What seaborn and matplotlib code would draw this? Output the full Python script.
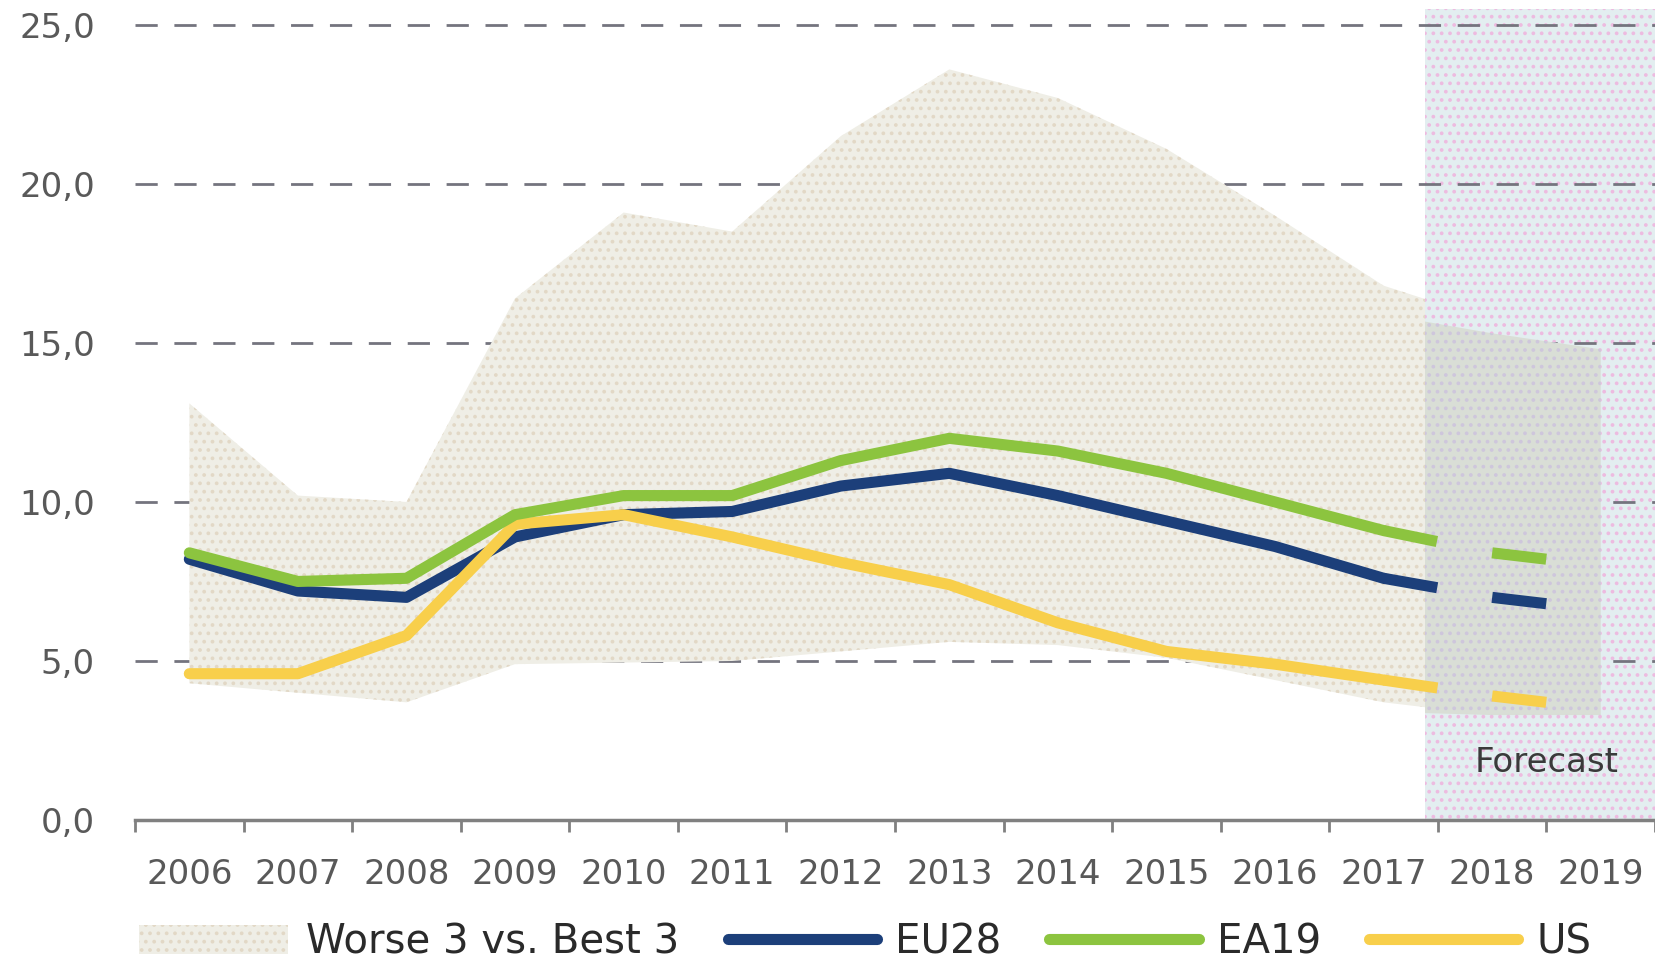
import matplotlib
matplotlib.use("Agg")
import matplotlib.pyplot as plt
import seaborn as sns
import numpy as np
import pandas as pd
from matplotlib.patches import Patch, Rectangle
from matplotlib.lines import Line2D
from matplotlib.ticker import FixedLocator, FixedFormatter, NullFormatter, FuncFormatter

# unemployment rate (%), actuals
years = list(range(2006, 2018))
eu28 = [8.2, 7.2, 7.0, 8.9, 9.6, 9.7, 10.5, 10.9, 10.2, 9.4, 8.6, 7.6]
ea19 = [8.4, 7.5, 7.6, 9.6, 10.2, 10.2, 11.3, 12.0, 11.6, 10.9, 10.0, 9.1]
us = [4.6, 4.6, 5.8, 9.3, 9.6, 8.9, 8.1, 7.4, 6.2, 5.3, 4.9, 4.4]

# forecast part (starts at last actual)
fc_years = [2017, 2018, 2019]
eu28_fc = [7.6, 7.0, 6.6]
ea19_fc = [9.1, 8.4, 8.0]
us_fc = [4.4, 3.9, 3.5]

# worse 3 vs best 3 range
band_years = list(range(2006, 2019))
worse3 = [13.1, 10.2, 10.0, 16.4, 19.1, 18.5, 21.5, 23.6, 22.7, 21.1, 19.0, 16.8, 15.7]
best3 = [4.3, 4.0, 3.7, 4.9, 4.95, 5.0, 5.3, 5.6, 5.5, 5.1, 4.4, 3.7, 3.3]
worse3_fc = [15.9, 15.3, 14.8]
best3_fc = [3.4, 3.3, 3.3]

year_labels = [str(y) for y in range(2006, 2020)]
y_ticks = [0, 5, 10, 15, 20, 25]
forecast_start = 2017.38

colors = {'EU28': '#1C3F7A', 'EA19': '#8CC43F', 'US': '#F8CF4B'}
band_color = '#EFEEE6'
band_dots = '#E2D8C6'

sns.set_style("white")
plt.rcParams['font.family'] = ['DejaVu Sans']
plt.rcParams['hatch.linewidth'] = 1.5

fig = plt.figure(figsize=(16.55, 9.61), dpi=100)
ax = fig.add_axes([0.0816, 0.1467, 0.9184, 0.8440])
xmin, xmax, ymax = 2005.5, 2019.5, 25.5
ax.set_xlim(xmin, xmax)
ax.set_ylim(0, ymax)

# forecast shading
ax.axvspan(forecast_start, xmax, facecolor='#E3EEF0', edgecolor='#EDBBE0',
           hatch='..', lw=0, zorder=0.2)

# range band, actual period
band = ax.fill_between(band_years, best3, worse3, facecolor=band_color,
                       edgecolor=band_dots, hatch='..', lw=0, zorder=1)
band.set_clip_path(Rectangle((xmin, 0), forecast_start - xmin, ymax, transform=ax.transData))

# range band, forecast period
fc_band = ax.fill_between(fc_years, best3_fc, worse3_fc, facecolor='#D9DED6',
                          edgecolor='#CEC6DC', hatch='..', lw=0, zorder=1.1)
fc_band.set_clip_path(Rectangle((forecast_start, 0), xmax - forecast_start, ymax, transform=ax.transData))

# lines
df = pd.DataFrame({
    'year': years * 3,
    'rate': eu28 + us + ea19,
    'series': ['EU28'] * len(years) + ['US'] * len(years) + ['EA19'] * len(years),
})
sns.lineplot(data=df, x='year', y='rate', hue='series', hue_order=['EU28', 'US', 'EA19'],
             palette=colors, lw=8, legend=False, ax=ax, zorder=3)

# forecast: dashed, pattern restarts at every year (as in the source chart)
for name, vals in [('EU28', eu28_fc), ('US', us_fc), ('EA19', ea19_fc)]:
    for i in range(len(fc_years) - 1):
        sns.lineplot(x=fc_years[i:i + 2], y=vals[i:i + 2], color=colors[name], lw=8,
                     linestyle=(0, (4.9, 12)), ax=ax, zorder=3)

ax.text(2018.5, 1.8, 'Forecast', ha='center', va='center', fontsize=24.5,
        color='#3A3A3A', zorder=5)

# axes styling
ax.set_axisbelow(True)
ax.yaxis.grid(True, color='#74747E', ls=(0, (8, 6)), lw=2)
ax.xaxis.grid(False)
for s in ['left', 'top', 'right']:
    ax.spines[s].set_visible(False)
ax.spines['bottom'].set_color('#808080')
ax.spines['bottom'].set_linewidth(2.5)
ax.spines['bottom'].set_zorder(4)

ax.xaxis.set_major_locator(FixedLocator(np.arange(xmin, xmax + 0.1, 1)))
ax.xaxis.set_major_formatter(NullFormatter())
ax.xaxis.set_minor_locator(FixedLocator(list(range(2006, 2020))))
ax.xaxis.set_minor_formatter(FixedFormatter(year_labels))
ax.tick_params(axis='x', which='major', bottom=True, length=8.6, width=2,
               color='#808080', direction='out')
ax.tick_params(axis='x', which='minor', bottom=True, length=0, pad=27,
               labelsize=24.5, labelcolor='#595959')

ax.set_yticks(y_ticks)
ax.yaxis.set_major_formatter(FuncFormatter(lambda v, _: f"{v:.1f}".replace('.', ',')))
ax.tick_params(axis='y', length=0, pad=29, labelsize=24.5, labelcolor='#595959')
ax.set_xlabel('')
ax.set_ylabel('')

handles = [
    Patch(facecolor=band_color, edgecolor=band_dots, hatch='..', lw=0),
    Line2D([], [], color=colors['EU28'], lw=8, solid_capstyle='round'),
    Line2D([], [], color=colors['EA19'], lw=8, solid_capstyle='round'),
    Line2D([], [], color=colors['US'], lw=8, solid_capstyle='round'),
]
labels = ['Worse 3 vs. Best 3', 'EU28', 'EA19', 'US']
fig.legend(handles, labels, loc='center left', bbox_to_anchor=(0.084, 0.019), ncol=4,
           frameon=False, fontsize=29, handlelength=3.7, handleheight=0.75,
           handletextpad=0.45, columnspacing=1.2, labelcolor='#2A2A2A',
           borderpad=0, borderaxespad=0)

fig.savefig('out.png', dpi=100)
plt.close(fig)
